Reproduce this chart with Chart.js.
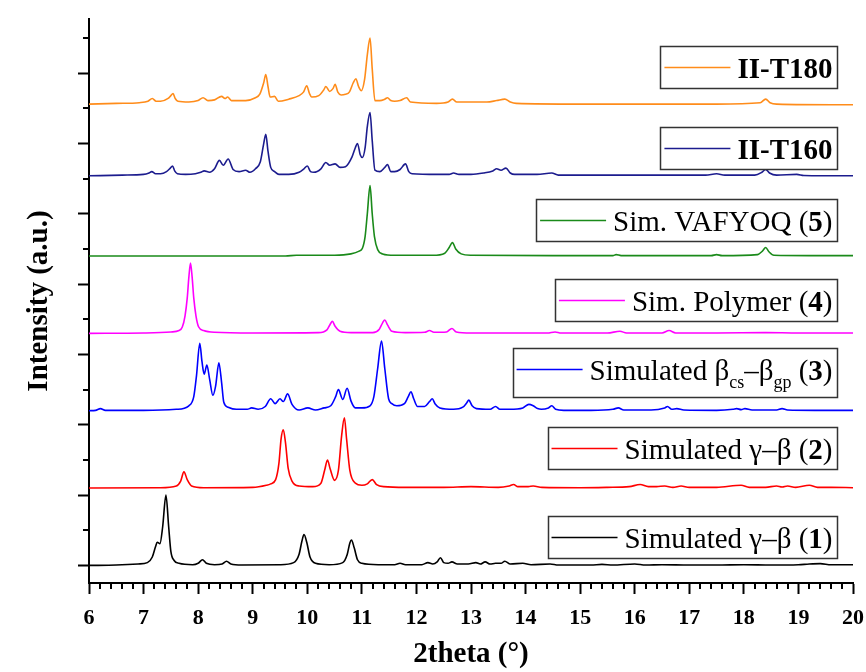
<!DOCTYPE html>
<html><head><meta charset="utf-8">
<script src="https://cdn.jsdelivr.net/npm/chart.js@4.4.1/dist/chart.umd.min.js"></script>
<style>html,body{margin:0;padding:0;background:#fff}canvas{display:block}</style>
</head><body>
<canvas id="c" width="866" height="672"></canvas>
<script>
// ---------- DATA (2theta, relative intensity) ----------
const seriesNames = ['II-T180','II-T160','Sim. VAFYOQ (5)','Sim. Polymer (4)','Simulated βcs–βgp (3)','Simulated γ–β (2)','Simulated γ–β (1)'];
const offsets = [6.56, 5.54, 4.40, 3.30, 2.20, 1.10, 0];
const xTickValues = [6,7,8,9,10,11,12,13,14,15,16,17,18,19,20];
const yTickValues = [0,1,2,3,4,5,6,7];

const traceT180 = [[6,0],[6.5,0.01],[6.92,0.02],[7.08,0.04],[7.16,0.08],[7.23,0.04],[7.31,0.04],[7.45,0.08],[7.5,0.12],[7.54,0.15],[7.58,0.08],[7.63,0.04],[7.83,0.03],[8.0,0.05],[8.09,0.09],[8.18,0.05],[8.3,0.06],[8.43,0.11],[8.49,0.08],[8.54,0.1],[8.61,0.05],[8.87,0.05],[9.05,0.09],[9.13,0.14],[9.2,0.3],[9.24,0.42],[9.28,0.25],[9.32,0.1],[9.4,0.11],[9.47,0.04],[9.66,0.07],[9.85,0.12],[9.93,0.17],[9.99,0.26],[10.04,0.15],[10.08,0.1],[10.21,0.12],[10.3,0.2],[10.34,0.25],[10.41,0.18],[10.47,0.22],[10.51,0.28],[10.56,0.17],[10.62,0.13],[10.7,0.14],[10.77,0.17],[10.84,0.3],[10.89,0.36],[10.94,0.25],[10.99,0.19],[11.05,0.35],[11.1,0.7],[11.15,0.94],[11.19,0.5],[11.24,0.05],[11.33,0.05],[11.42,0.07],[11.47,0.09],[11.53,0.05],[11.6,0.04],[11.7,0.05],[11.82,0.09],[11.89,0.03],[12.37,0.01],[12.58,0.03],[12.66,0.07],[12.74,0.03],[13.29,0.03],[13.47,0.05],[13.62,0.07],[13.72,0.03],[13.83,0.01],[15.0,0.0],[16.0,0.0],[17.5,0.0],[18.3,0.02],[18.4,0.07],[18.48,0.02],[18.6,0.0],[20,-0.01]];

const traceT160 = [[6,0],[6.61,0.01],[7.0,0.02],[7.1,0.04],[7.15,0.06],[7.22,0.03],[7.31,0.03],[7.42,0.06],[7.49,0.11],[7.53,0.14],[7.57,0.07],[7.62,0.03],[7.77,0.02],[7.95,0.03],[8.05,0.05],[8.11,0.07],[8.21,0.05],[8.3,0.1],[8.39,0.22],[8.46,0.15],[8.55,0.24],[8.64,0.09],[8.75,0.06],[8.87,0.08],[8.95,0.05],[9.05,0.1],[9.14,0.2],[9.2,0.45],[9.24,0.59],[9.28,0.35],[9.33,0.12],[9.4,0.06],[9.48,0.02],[9.66,0.02],[9.85,0.05],[9.94,0.1],[10.0,0.14],[10.06,0.06],[10.12,0.05],[10.25,0.1],[10.34,0.19],[10.41,0.15],[10.51,0.17],[10.6,0.12],[10.7,0.13],[10.82,0.27],[10.88,0.4],[10.92,0.46],[10.97,0.3],[11.01,0.26],[11.06,0.4],[11.1,0.7],[11.15,0.9],[11.19,0.5],[11.24,0.08],[11.33,0.06],[11.42,0.12],[11.47,0.16],[11.53,0.06],[11.6,0.06],[11.7,0.09],[11.8,0.17],[11.86,0.06],[11.92,0.03],[12.38,0.02],[12.6,0.02],[12.68,0.04],[12.78,0.02],[13.0,0.02],[13.23,0.04],[13.4,0.07],[13.47,0.1],[13.55,0.08],[13.64,0.11],[13.72,0.04],[13.8,0.02],[14.21,0.02],[14.48,0.04],[14.6,0.01],[15.0,0.01],[16.5,0.01],[17.3,0.01],[17.5,0.03],[17.65,0.01],[18.2,0.01],[18.33,0.05],[18.4,0.09],[18.47,0.04],[18.6,0.01],[18.97,0.02],[19.1,0.005],[20,0.0]];

const traceVAFYOQ = [[6,0],[9.6,0.0],[9.8,0.01],[10.5,0.01],[10.8,0.03],[10.95,0.07],[11.01,0.11],[11.06,0.28],[11.1,0.6],[11.15,1.0],[11.19,0.6],[11.23,0.28],[11.29,0.09],[11.38,0.03],[11.6,0.01],[12.3,0.01],[12.52,0.04],[12.6,0.12],[12.66,0.19],[12.72,0.1],[12.82,0.03],[13.0,0.01],[14.5,0.005],[15.6,0.005],[15.66,0.02],[15.75,0.005],[17.4,0.005],[17.5,0.02],[17.6,0.005],[18.25,0.02],[18.34,0.07],[18.4,0.12],[18.46,0.06],[18.55,0.01],[19.2,0.005],[20,0.005]];

const tracePolymer = [[6,0],[7.0,0.005],[7.5,0.02],[7.65,0.04],[7.71,0.09],[7.76,0.25],[7.8,0.5],[7.83,0.8],[7.86,1.0],[7.89,0.8],[7.92,0.5],[7.96,0.25],[8.01,0.09],[8.1,0.04],[8.3,0.015],[9.0,0.005],[10.2,0.01],[10.36,0.05],[10.42,0.13],[10.46,0.17],[10.51,0.1],[10.6,0.03],[10.8,0.01],[11.2,0.01],[11.32,0.06],[11.38,0.15],[11.42,0.19],[11.47,0.12],[11.55,0.03],[11.8,0.01],[12.15,0.015],[12.24,0.04],[12.32,0.015],[12.55,0.02],[12.65,0.07],[12.73,0.02],[13.0,0.005],[14.4,0.005],[14.54,0.02],[14.65,0.005],[15.5,0.005],[15.73,0.03],[15.85,0.005],[16.5,0.005],[16.63,0.04],[16.75,0.005],[17.5,0.005],[18.4,0.01],[19,0.005],[20,0.005]];

const traceBetaCsGp = [[6,0],[6.12,0.005],[6.21,0.03],[6.3,0.005],[7.0,0.005],[7.6,0.02],[7.83,0.07],[7.92,0.2],[7.97,0.5],[8.03,0.96],[8.07,0.7],[8.11,0.52],[8.16,0.65],[8.21,0.45],[8.27,0.22],[8.32,0.35],[8.38,0.68],[8.43,0.4],[8.47,0.12],[8.55,0.05],[8.7,0.02],[8.9,0.02],[8.98,0.04],[9.1,0.02],[9.23,0.06],[9.33,0.17],[9.41,0.1],[9.5,0.17],[9.56,0.13],[9.64,0.24],[9.72,0.09],[9.85,0.01],[10.01,0.04],[10.15,0.01],[10.31,0.04],[10.43,0.07],[10.52,0.2],[10.57,0.3],[10.65,0.16],[10.73,0.32],[10.8,0.14],[10.88,0.04],[11.0,0.04],[11.15,0.07],[11.22,0.2],[11.29,0.6],[11.36,0.99],[11.42,0.6],[11.49,0.17],[11.55,0.1],[11.64,0.07],[11.78,0.1],[11.85,0.2],[11.9,0.27],[11.95,0.17],[12.02,0.06],[12.15,0.06],[12.24,0.13],[12.29,0.17],[12.34,0.1],[12.43,0.04],[12.68,0.02],[12.85,0.05],[12.92,0.11],[12.96,0.15],[13.02,0.07],[13.1,0.03],[13.35,0.02],[13.45,0.06],[13.53,0.02],[13.71,0.02],[13.95,0.04],[14.06,0.09],[14.14,0.07],[14.22,0.03],[14.29,0.02],[14.42,0.04],[14.48,0.07],[14.55,0.02],[14.7,0.005],[15.2,0.005],[15.6,0.02],[15.7,0.04],[15.8,0.01],[16.3,0.01],[16.55,0.04],[16.6,0.06],[16.68,0.02],[16.77,0.03],[16.9,0.01],[17.5,0.005],[17.8,0.02],[17.87,0.03],[17.95,0.015],[18.02,0.03],[18.15,0.01],[18.6,0.01],[18.7,0.03],[18.8,0.01],[19.3,0.005],[20,0.005]];

const traceGammaBeta2 = [[6,0],[7.3,0.005],[7.6,0.03],[7.68,0.1],[7.74,0.23],[7.8,0.12],[7.88,0.03],[8.1,0.005],[9.0,0.01],[9.25,0.04],[9.33,0.06],[9.42,0.12],[9.48,0.35],[9.52,0.7],[9.56,0.83],[9.6,0.65],[9.65,0.28],[9.72,0.1],[9.85,0.03],[10.1,0.02],[10.25,0.07],[10.32,0.26],[10.37,0.4],[10.42,0.27],[10.5,0.11],[10.57,0.25],[10.63,0.75],[10.68,1.0],[10.72,0.7],[10.78,0.25],[10.88,0.07],[11.0,0.04],[11.1,0.06],[11.19,0.12],[11.27,0.05],[11.4,0.02],[11.8,0.01],[12.5,0.01],[13.0,0.02],[13.5,0.01],[13.7,0.03],[13.78,0.05],[13.86,0.02],[14.05,0.02],[14.14,0.03],[14.3,0.01],[15.0,0.005],[15.5,0.01],[15.9,0.02],[16.1,0.05],[16.25,0.02],[16.4,0.02],[16.55,0.03],[16.7,0.01],[16.85,0.03],[17.0,0.01],[17.5,0.01],[17.95,0.04],[18.1,0.01],[18.4,0.01],[18.6,0.03],[18.7,0.015],[18.8,0.03],[18.95,0.01],[19.2,0.04],[19.35,0.01],[19.6,0.01],[20,0.005]];

const traceGammaBeta1 = [[6,0],[6.5,0.005],[6.9,0.02],[7.07,0.04],[7.16,0.12],[7.22,0.27],[7.25,0.33],[7.3,0.31],[7.35,0.55],[7.41,1.0],[7.46,0.55],[7.5,0.2],[7.56,0.07],[7.65,0.03],[7.9,0.01],[8.0,0.03],[8.08,0.08],[8.15,0.03],[8.3,0.01],[8.44,0.02],[8.52,0.06],[8.6,0.02],[8.8,0.005],[9.5,0.01],[9.75,0.04],[9.85,0.16],[9.9,0.34],[9.94,0.44],[9.99,0.33],[10.05,0.12],[10.15,0.03],[10.4,0.01],[10.65,0.04],[10.73,0.15],[10.78,0.32],[10.81,0.36],[10.86,0.25],[10.92,0.08],[11.0,0.03],[11.3,0.01],[11.6,0.01],[11.7,0.03],[11.8,0.01],[12.1,0.01],[12.21,0.04],[12.3,0.02],[12.38,0.05],[12.44,0.11],[12.5,0.04],[12.58,0.03],[12.65,0.05],[12.75,0.02],[12.95,0.02],[13.09,0.04],[13.17,0.02],[13.26,0.05],[13.35,0.02],[13.45,0.03],[13.55,0.03],[13.62,0.06],[13.72,0.02],[13.95,0.03],[14.1,0.01],[14.45,0.02],[14.6,0.005],[15.2,0.005],[15.4,0.015],[15.6,0.005],[16.0,0.02],[16.2,0.005],[16.5,0.01],[17.0,0.005],[17.5,0.005],[18.0,0.01],[18.5,0.005],[19.0,0.01],[19.2,0.02],[19.4,0.025],[19.6,0.01],[20,0.01]];

const traces = [traceT180, traceT160, traceVAFYOQ, tracePolymer, traceBetaCsGp, traceGammaBeta2, traceGammaBeta1];

// ---------- STYLE ----------
const colors = ['#FF8C1A','#1C1C8E','#1A8A1A','#FF00FF','#0000FF','#FF0000','#000000'];
// legend label parts: n=normal, b=bold, s=subscript
const legendLabels = [
  [['II-T180','b']],
  [['II-T160','b']],
  [['Sim. VAFYOQ (','n'],['5','b'],[')','n']],
  [['Sim. Polymer (','n'],['4','b'],[')','n']],
  [['Simulated β','n'],['cs','s'],['–β','n'],['gp','s'],[' (','n'],['3','b'],[')','n']],
  [['Simulated γ–β (','n'],['2','b'],[')','n']],
  [['Simulated γ–β (','n'],['1','b'],[')','n']]
];
const legendAnchors = [7.09, 5.93, 4.91, 3.77, 2.79, 1.67, 0.41];
const FAMILY = "'Liberation Serif','Times New Roman',serif";

function fontFor(k){
  if(k==='b') return 'bold 29px ' + FAMILY;
  if(k==='s') return '18px ' + FAMILY;
  return '29px ' + FAMILY;
}

const legendPlugin = {
  id: 'boxLegends',
  afterDatasetsDraw(chart){
    const ctx = chart.ctx, ys = chart.scales.y, area = chart.chartArea;
    ctx.save();
    legendLabels.forEach((parts, i) => {
      const cy = Math.round(ys.getPixelForValue(legendAnchors[i])) + 0.5;
      let w = 0;
      parts.forEach(p => { ctx.font = fontFor(p[1]); w += ctx.measureText(p[0]).width; });
      const right = Math.round(area.right - 16) + 0.5;
      const textLeft = right - 5 - w;
      const lineR = textLeft - 7, lineL = lineR - 66;
      const boxL = Math.round(lineL - 4) + 0.5;
      const hasSub = parts.some(p => p[1] === 's');
      const top = cy - 21, bottom = cy + (hasSub ? 28 : 21);
      ctx.fillStyle = '#fff';
      ctx.fillRect(boxL, top, right - boxL, bottom - top);
      ctx.strokeStyle = '#333';
      ctx.lineWidth = 1.5;
      ctx.strokeRect(boxL, top, right - boxL, bottom - top);
      ctx.strokeStyle = colors[i];
      ctx.lineWidth = 1.5;
      ctx.beginPath(); ctx.moveTo(lineL, cy); ctx.lineTo(lineR, cy); ctx.stroke();
      let x = textLeft;
      ctx.fillStyle = '#000';
      ctx.textBaseline = 'alphabetic';
      ctx.textAlign = 'left';
      const base = cy + 10;
      parts.forEach(p => {
        ctx.font = fontFor(p[1]);
        ctx.fillText(p[0], x, p[1] === 's' ? base + 8 : base);
        x += ctx.measureText(p[0]).width;
      });
    });
    ctx.restore();
  }
};

const minorTickPlugin = {
  id: 'minorTicks',
  afterDraw(chart){
    const ctx = chart.ctx, xs = chart.scales.x, ys = chart.scales.y;
    ctx.save();
    ctx.strokeStyle = '#000';
    ctx.lineWidth = 2;
    ctx.beginPath();
    for (let k = 0; k < xTickValues.length - 1; k++) {
      for (let m = 1; m < 5; m++) {
        const v = xTickValues[k] + m * 0.2;
        const px = Math.round(xs.getPixelForValue(v));
        ctx.moveTo(px, xs.top); ctx.lineTo(px, xs.top + 6);
      }
    }
    yTickValues.forEach(t => {
      const v = t + 0.5;
      if (v <= ys.max) {
        const py = Math.round(ys.getPixelForValue(v));
        ctx.moveTo(ys.right, py); ctx.lineTo(ys.right - 6, py);
      }
    });
    ctx.stroke();
    ctx.restore();
  }
};

const datasets = traces.map((tr, i) => ({
  label: seriesNames[i],
  data: tr.map(p => ({x: p[0], y: p[1] + offsets[i]})),
  borderColor: colors[i],
  backgroundColor: colors[i],
  borderWidth: 1.6,
  pointRadius: 0,
  fill: false,
  cubicInterpolationMode: 'monotone'
}));

new Chart(document.getElementById('c'), {
  type: 'line',
  data: { datasets },
  plugins: [legendPlugin, minorTickPlugin],
  options: {
    responsive: false,
    devicePixelRatio: 1,
    animation: false,
    layout: { padding: { top: 19, right: 13, left: 0, bottom: 0 } },
    plugins: { legend: { display: false }, tooltip: { enabled: false } },
    scales: {
      x: {
        type: 'linear', min: 6, max: 20,
        afterBuildTicks: s => { s.ticks = xTickValues.map(v => ({value: v})); },
        afterFit: s => { s.height = 89; s.paddingLeft = 0; s.paddingRight = 0; },
        grid: { drawOnChartArea: false, drawTicks: true, tickLength: 11, tickWidth: 2, tickColor: '#000' },
        border: { display: true, color: '#000', width: 2 },
        ticks: { color: '#000', padding: 11, maxRotation: 0, font: { family: FAMILY, size: 22, weight: 'bold' } },
        title: { display: true, text: '2theta (°)', color: '#000', padding: { top: 0, bottom: 0 }, font: { family: FAMILY, size: 29, weight: 'bold' } }
      },
      y: {
        type: 'linear', min: -0.25, max: 7.77,
        afterBuildTicks: s => { s.ticks = yTickValues.map(v => ({value: v})); },
        afterFit: s => { s.width = 89; },
        grid: { drawOnChartArea: false, drawTicks: true, tickLength: 11, tickWidth: 2, tickColor: '#000' },
        border: { display: true, color: '#000', width: 2 },
        ticks: { display: false },
        title: { display: true, text: 'Intensity (a.u.)', color: '#000', padding: { top: 22, bottom: 0 }, font: { family: FAMILY, size: 29, weight: 'bold' } }
      }
    }
  }
});
</script>
</body></html>
